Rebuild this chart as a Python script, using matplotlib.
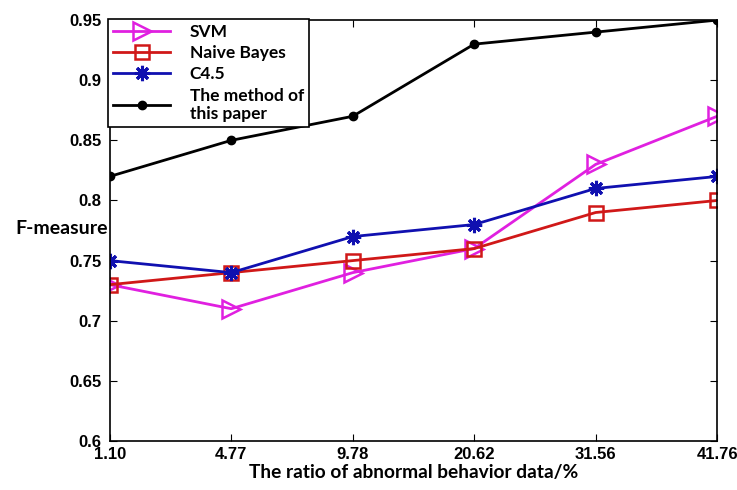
import matplotlib
matplotlib.use("Agg")
import matplotlib.pyplot as plt

categories = ["1.10", "4.77", "9.78", "20.62", "31.56", "41.76"]
svm = [0.73, 0.71, 0.74, 0.76, 0.83, 0.87]
naive_bayes = [0.73, 0.74, 0.75, 0.76, 0.79, 0.80]
c45 = [0.75, 0.74, 0.77, 0.78, 0.81, 0.82]
ours = [0.82, 0.85, 0.87, 0.93, 0.94, 0.95]
yticks = [0.6, 0.65, 0.7, 0.75, 0.8, 0.85, 0.9, 0.95]
ytick_labels = ["0.6", "0.65", "0.7", "0.75", "0.8", "0.85", "0.9", "0.95"]

plt.rcParams['font.family'] = ['Liberation Sans', 'DejaVu Sans']

fig = plt.figure(figsize=(7.37, 4.90), dpi=100)
ax = fig.add_axes([0.149, 0.100, 0.824, 0.859])
x = list(range(len(categories)))

ax.plot(x, svm, color='#e020e0', lw=2, marker='>', ms=12.5, mfc='none', mew=1.8, label='SVM')
ax.plot(x, naive_bayes, color='#d01818', lw=2, marker='s', ms=9.5, mfc='none', mew=1.8, label='Naive Bayes')
ax.plot(x, c45, color='#1010b0', lw=2, marker=(8, 2, 0), ms=11, mew=2.2, label='C4.5')
ax.plot(x, ours, color='black', lw=2, marker='o', ms=6, label='The method of\nthis paper')

ax.set_xlim(0, len(categories) - 1)
ax.set_ylim(0.6, 0.95)
ax.set_xticks(x)
ax.set_xticklabels(categories, fontsize=12, fontweight='bold')
ax.set_yticks(yticks)
ax.set_yticklabels(ytick_labels, fontsize=12, fontweight='bold')
ax.tick_params(direction='in', length=5, right=True, top=True)
ax.tick_params(axis='x', pad=4)
ax.tick_params(axis='y', pad=6)

for s in ax.spines.values():
    s.set_linewidth(1.2)

lab_font = ['Lato', 'DejaVu Sans']
ax.set_xlabel('The ratio of abnormal behavior data/%', fontsize=13.8, fontweight='bold',
              family=lab_font, labelpad=1.5)
ax.set_ylabel('F-measure', fontsize=14, fontweight='bold', family=lab_font, rotation=0,
              ha='right', va='center')
ax.yaxis.set_label_coords(-0.003, 0.505)

leg = ax.legend(loc='upper left', bbox_to_anchor=(-0.003, 1.003),
                prop={'weight': 'bold', 'size': 12.5, 'family': lab_font},
                frameon=True, fancybox=False, edgecolor='black', framealpha=1,
                borderpad=0.3, labelspacing=0.3, handlelength=3.3, handletextpad=1.1,
                borderaxespad=0)
leg.get_frame().set_linewidth(1.2)

fig.savefig('out.png', dpi=100)
